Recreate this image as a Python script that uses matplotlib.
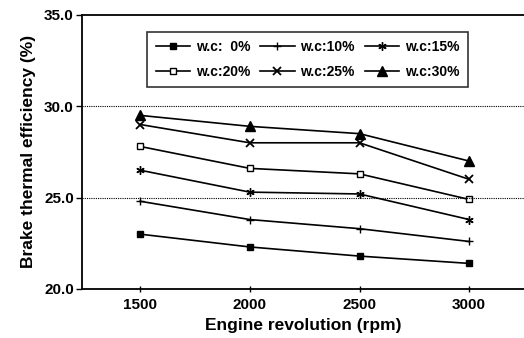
import matplotlib
matplotlib.use("Agg")
import matplotlib.pyplot as plt

plt.rcParams['font.family'] = ['Liberation Sans', 'DejaVu Sans']

rpm = [1500, 2000, 2500, 3000]
labels = ["w.c:  0%", "w.c:10%", "w.c:15%", "w.c:20%", "w.c:25%", "w.c:30%"]
wc0 = [23.0, 22.3, 21.8, 21.4]
wc10 = [24.8, 23.8, 23.3, 22.6]
wc15 = [26.5, 25.3, 25.2, 23.8]
wc20 = [27.8, 26.6, 26.3, 24.9]
wc25 = [29.0, 28.0, 28.0, 26.0]
wc30 = [29.5, 28.9, 28.5, 27.0]
yticks = [20.0, 25.0, 30.0, 35.0]
xticks = [1500, 2000, 2500, 3000]

series = [wc0, wc10, wc15, wc20, wc25, wc30]
styles = [dict(marker='s', ms=5, mfc='black'),
          dict(marker='+', ms=6, mew=1.0),
          dict(marker=(6, 2, 0), ms=6, mew=1.0),
          dict(marker='s', ms=5, mfc='white'),
          dict(marker='x', ms=6, mew=1.3),
          dict(marker='^', ms=6.5, mfc='black')]

fig = plt.figure(figsize=(5.24, 3.38), dpi=100)
ax = fig.add_axes([0.157, 0.145, 0.843, 0.811])

handles = []
for ys, lab, st in zip(series, labels, styles):
    h, = ax.plot(rpm, ys, color='black', lw=1.2, mec='black', label=lab, **st)
    handles.append(h)

ax.set_xlim(1236, 3250)
ax.set_ylim(20, 35)
ax.set_yticks(yticks)
ax.set_yticklabels([f"{v:.1f}" for v in yticks], fontweight='bold', fontsize=11)
ax.set_xticks(xticks)
ax.set_xticklabels([str(v) for v in xticks], fontweight='bold', fontsize=11)
ax.tick_params(axis='x', direction='inout', length=5, width=1, pad=4)
ax.tick_params(axis='y', direction='out', length=4, width=1, pad=2)

for v in [25, 30]:
    ax.axhline(v, color='black', lw=0.8, ls=(0, (1, 1)))

for s in ['left', 'bottom', 'top']:
    ax.spines[s].set_linewidth(1.3)
ax.spines['right'].set_visible(False)

ax.set_xlabel("Engine revolution (rpm)", fontweight='bold', fontsize=12.5, labelpad=4)
ax.set_ylabel("Brake thermal efficiency (%)", fontweight='bold', fontsize=12.5, labelpad=6)

order = [0, 3, 1, 4, 2, 5]
leg = ax.legend([handles[i] for i in order], [labels[i] for i in order], ncol=3,
                loc='upper left', bbox_to_anchor=(0.147, 0.938), borderaxespad=0,
                frameon=True, fancybox=False, edgecolor='black',
                prop={'weight': 'bold', 'size': 10}, handlelength=2.5,
                handletextpad=0.4, columnspacing=0.7, borderpad=0.6, labelspacing=0.75)
leg.get_frame().set_linewidth(1.2)

fig.savefig("out.png", dpi=100)
